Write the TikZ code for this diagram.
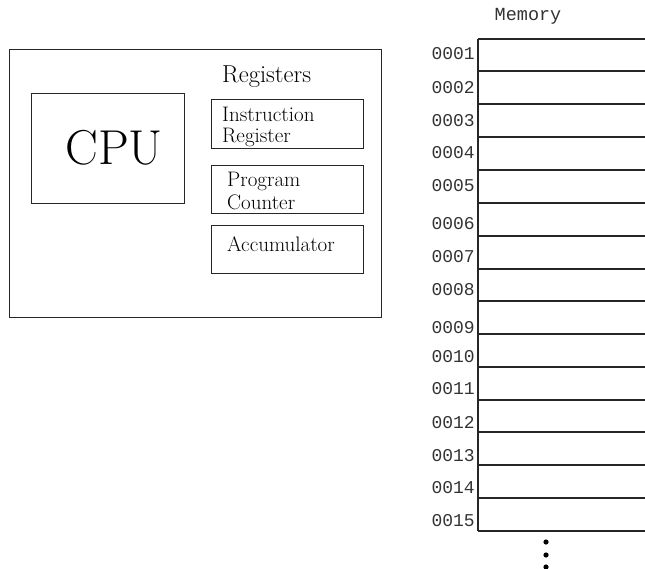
\documentclass[tikz,border=0pt]{standalone}
\usepackage{fontspec}
\newfontfamily\memfont{Liberation Mono}
\begin{document}
\begin{tikzpicture}[x=1pt,y=-1pt,
  box/.style={draw=black!85,line width=1.2pt},
  memline/.style={draw=black!85,line width=1.1pt},
  memlab/.style={anchor=base east,inner sep=0pt,font=\memfont\fontsize{18}{18}\selectfont,text=black!80},
  regtext/.style={anchor=base west,inner sep=0pt,font=\fontsize{21}{21}\selectfont}]
\useasboundingbox (0,0) rectangle (645,569);
% CPU enclosure
\node[box,minimum width=372,minimum height=268,anchor=north west,inner sep=0pt] (outer) at (8.5,49) {};
\node[box,minimum width=153,minimum height=110,anchor=north west,inner sep=0pt] (cpubox) at (30.5,93) {};
\node[anchor=base,inner sep=0pt,font=\fontsize{49}{49}\selectfont] (cpu) at (114,165) {CPU};
\node[anchor=base west,inner sep=0pt,font=\fontsize{24.5}{24.5}\selectfont] (regs) at (222,83) {Registers};
\node[box,minimum width=152,minimum height=49,anchor=north west,inner sep=0pt] (ir) at (211,99) {};
\node[box,minimum width=152,minimum height=48,anchor=north west,inner sep=0pt] (pc) at (211,165) {};
\node[box,minimum width=152,minimum height=48,anchor=north west,inner sep=0pt] (acc) at (211,225) {};
\node[regtext] (ir1) at (222,122) {Instruction};
\node[regtext] (ir2) at (222,143) {Register};
\node[regtext] (pc1) at (227,187) {Program};
\node[regtext] (pc2) at (227,210) {Counter};
\node[regtext] (acc1) at (227,252) {Accumulator};
% Memory
\node[anchor=base,inner sep=0pt,font=\memfont\fontsize{18.5}{18.5}\selectfont,text=black!80] (memlabel) at (528,21) {Memory};
\coordinate (mtop) at (478,39);
\coordinate (mbot) at (478,531);
\draw[memline] (mtop) -- (mbot);
\foreach \y in {39,71,104,137,170,203,236,269,301,334,367,400,432,465,498}
  \draw[memline] (478,\y) -- (645,\y);
\draw[draw=black!85,line width=2pt] (478,531) -- (645,531);
\foreach \lab/\y in {0001/60,0002/94,0003/127,0004/159,0005/192,0006/230,0007/263,0008/296,0009/334,0010/362,0011/394,0012/428,0013/461,0014/493,0015/526}
  \node[memlab] (m\lab) at (475,\y) {\lab};
% continuation dots
\foreach \y in {542,555,567}
  \fill (546,\y) circle (2.6);
\end{tikzpicture}
\end{document}
